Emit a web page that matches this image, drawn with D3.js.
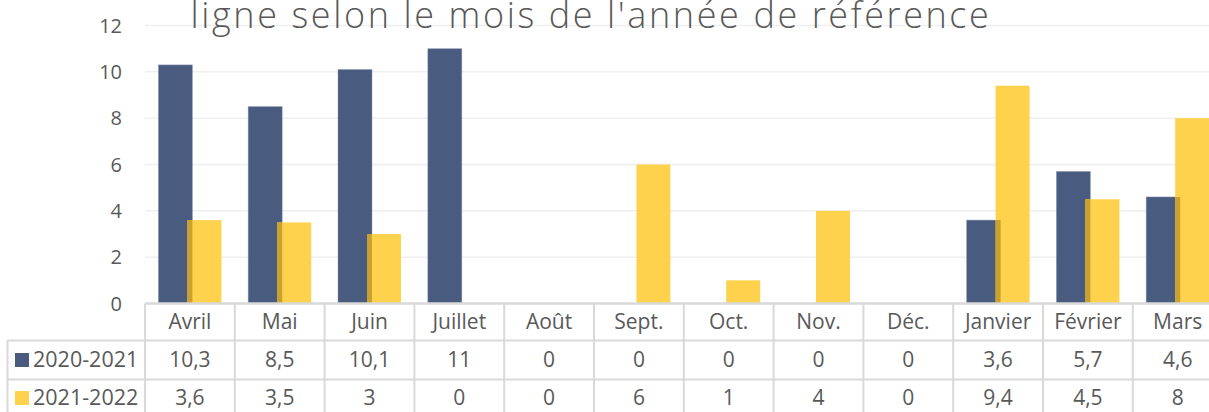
<!DOCTYPE html>
<html lang="fr">
<head>
  <meta charset="UTF-8" />
  <title>Mois de l'année de référence</title>
  <script src="https://cdn.jsdelivr.net/npm/d3@7/dist/d3.min.js"></script>
  <style>
    html, body { margin: 0; padding: 0; background: #fff; overflow: hidden; }
    svg { display: block; font-family: "Open Sans", "Noto Sans", sans-serif; }
  </style>
</head>
<body>
  <div id="chart"></div>
  <script>
    // données
    const months = ["Avril", "Mai", "Juin", "Juillet", "Août", "Sept.", "Oct.", "Nov.", "Déc.", "Janvier", "Février", "Mars"];
    const seriesNames = ["2020-2021", "2021-2022"];
    const values2020 = [10.3, 8.5, 10.1, 11, 0, 0, 0, 0, 0, 3.6, 5.7, 4.6];
    const values2021 = [3.6, 3.5, 3, 0, 0, 6, 1, 4, 0, 9.4, 4.5, 8];
    const yTicks = [0, 2, 4, 6, 8, 10, 12];
    const title = "ligne selon le mois de l'année de référence";

    const width = 1209, height = 412;
    const textColor = "#595959";
    const blue = "#4A5B80";
    const yellow = "#FFD24D";
    const overlapColor = "#C8A12E";
    const lineColor = "#D9D9D9";

    const svg = d3.select("#chart").append("svg")
      .attr("width", width)
      .attr("height", height);

    const x = d3.scaleBand().domain(months).range([145, 145 + 12 * 89.8]);
    const y = d3.scaleLinear().domain([0, 12]).range([303.5, 25.5]);

    const bw = x.bandwidth();
    const barW = 34, overlap = 5;
    const groupStart = (bw - (2 * barW - overlap)) / 2;
    const xBlue = m => x(m) + groupStart;
    const xYellow = m => x(m) + groupStart + barW - overlap;

    // grille
    svg.append("g")
      .selectAll("line")
      .data(yTicks.filter(t => t > 0))
      .enter().append("line")
      .attr("x1", 145).attr("x2", width)
      .attr("y1", d => y(d)).attr("y2", d => y(d))
      .attr("stroke", "#EFEFEF")
      .attr("stroke-width", 1.5);

    // titre (coupé en haut comme sur l'original)
    svg.append("text")
      .attr("x", 591)
      .attr("y", 28)
      .attr("text-anchor", "middle")
      .attr("fill", textColor)
      .attr("font-size", 36)
      .attr("font-weight", 300)
      .attr("letter-spacing", 2.6)
      .text(title);

    // graduations
    svg.append("g")
      .selectAll("text")
      .data(yTicks)
      .enter().append("text")
      .attr("x", 122)
      .attr("y", d => y(d) + 7)
      .attr("text-anchor", "end")
      .attr("fill", textColor)
      .attr("font-size", 20)
      .text(d => d);

    // barres
    const rows1 = months.map((m, i) => ({ m, v: values2020[i] }));
    const rows2 = months.map((m, i) => ({ m, v: values2021[i] }));

    svg.append("g")
      .selectAll("rect")
      .data(rows1)
      .enter().append("rect")
      .attr("x", d => xBlue(d.m))
      .attr("width", barW)
      .attr("y", d => y(d.v))
      .attr("height", d => y(0) - y(d.v))
      .attr("fill", blue)
      .attr("stroke", "#8A97B3")
      .attr("stroke-opacity", 0.5)
      .attr("stroke-width", 0.8);

    // clip sur les barres bleues pour la zone de recouvrement
    const clip = svg.append("clipPath").attr("id", "blueClip");
    clip.selectAll("rect")
      .data(rows1)
      .enter().append("rect")
      .attr("x", d => xBlue(d.m))
      .attr("width", barW)
      .attr("y", d => y(d.v))
      .attr("height", d => y(0) - y(d.v));

    svg.append("g")
      .selectAll("rect")
      .data(rows2)
      .enter().append("rect")
      .attr("x", d => xYellow(d.m))
      .attr("width", barW)
      .attr("y", d => y(d.v))
      .attr("height", d => y(0) - y(d.v))
      .attr("fill", yellow);

    svg.append("g")
      .attr("clip-path", "url(#blueClip)")
      .selectAll("rect")
      .data(rows2)
      .enter().append("rect")
      .attr("x", d => xYellow(d.m))
      .attr("width", barW)
      .attr("y", d => y(d.v))
      .attr("height", d => y(0) - y(d.v))
      .attr("fill", overlapColor);

    // tableau de données
    const rowY = [303.5, 340.5, 379.5, 418];
    const table = svg.append("g");
    table.append("line")
      .attr("x1", 145).attr("x2", width)
      .attr("y1", rowY[0]).attr("y2", rowY[0])
      .attr("stroke", lineColor).attr("stroke-width", 2.5);
    [rowY[1], rowY[2]].forEach(yy => {
      table.append("line")
        .attr("x1", 7).attr("x2", width)
        .attr("y1", yy).attr("y2", yy)
        .attr("stroke", lineColor).attr("stroke-width", 2);
    });
    table.append("line")
      .attr("x1", 7.5).attr("x2", 7.5)
      .attr("y1", rowY[1]).attr("y2", height)
      .attr("stroke", lineColor).attr("stroke-width", 2);
    table.selectAll(".vline")
      .data(months)
      .enter().append("line")
      .attr("class", "vline")
      .attr("x1", d => x(d)).attr("x2", d => x(d))
      .attr("y1", rowY[0]).attr("y2", height)
      .attr("stroke", lineColor).attr("stroke-width", 2);

    table.selectAll(".month")
      .data(months)
      .enter().append("text")
      .attr("class", "month")
      .attr("x", d => x(d) + bw / 2)
      .attr("y", 329)
      .attr("text-anchor", "middle")
      .attr("fill", textColor)
      .attr("font-size", 21)
      .text(d => d);

    const fmt = v => String(v).replace(".", ",");
    [values2020, values2021].forEach((vals, r) => {
      table.selectAll(".val" + r)
        .data(months)
        .enter().append("text")
        .attr("class", "val" + r)
        .attr("x", d => x(d) + bw / 2)
        .attr("y", r === 0 ? 367 : 405)
        .attr("text-anchor", "middle")
        .attr("fill", textColor)
        .attr("font-size", 21)
        .text((d, i) => fmt(vals[i]));
    });

    // légende dans le tableau
    const legendColors = [blue, yellow];
    seriesNames.forEach((name, r) => {
      const base = r === 0 ? 367 : 405;
      table.append("rect")
        .attr("x", 15).attr("y", base - 14)
        .attr("width", 14).attr("height", 14)
        .attr("fill", legendColors[r]);
      table.append("text")
        .attr("x", 33).attr("y", base)
        .attr("fill", textColor)
        .attr("font-size", 21.5)
        .text(name);
    });
  </script>
</body>
</html>
